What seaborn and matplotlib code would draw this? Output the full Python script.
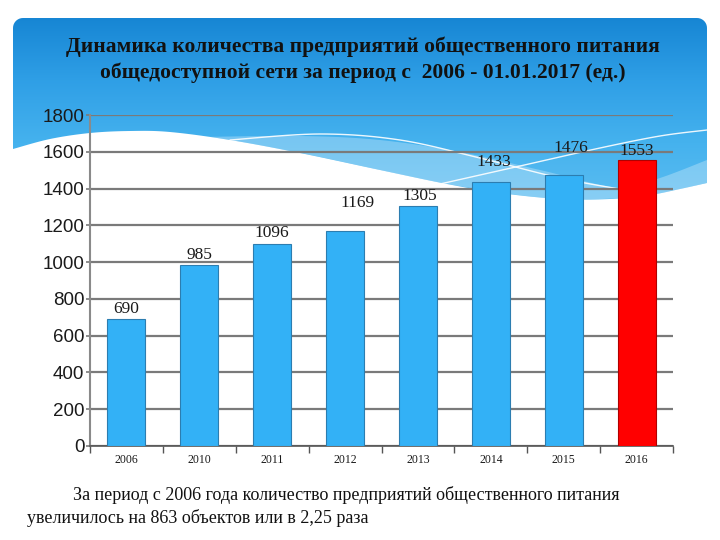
import numpy as np
import pandas as pd
import matplotlib
matplotlib.use("Agg")
import matplotlib.pyplot as plt
from matplotlib.path import Path
from matplotlib.patches import PathPatch, Polygon
import seaborn as sns

# ---- data ----
years = ["2006", "2010", "2011", "2012", "2013", "2014", "2015", "2016"]
counts = [690, 985, 1096, 1169, 1305, 1433, 1476, 1553]
y_ticks = [0, 200, 400, 600, 800, 1000, 1200, 1400, 1600, 1800]
title_lines = ["Динамика количества предприятий общественного питания",
               "общедоступной сети за период с  2006 - 01.01.2017 (ед.)"]
note_lines = ["За период с 2006 года количество предприятий общественного питания",
              "увеличилось на 863 объектов или в 2,25 раза"]

# label offsets (style only, in pixels)
lab_dx = [0, 0, 0, 12, 2, 3, 7, 0]
lab_dy = [2, 2, 3, 20, 2, 12, 19, 1]

sns.set_theme(style="white")
plt.rcParams['font.family'] = ['Liberation Serif', 'DejaVu Serif']

W, H = 720, 540
fig = plt.figure(figsize=(7.2, 5.4), dpi=100)
fig.patch.set_facecolor("white")

# ---- background panel ----
bg = fig.add_axes([0, 0, 1, 1], zorder=0)
bg.set_xlim(0, W)
bg.set_ylim(H, 0)
bg.axis("off")


def catmull(pts, n=12):
    pts = np.asarray(pts, float)
    P = np.vstack([pts[0], pts, pts[-1]])
    out = []
    for i in range(1, len(P) - 2):
        p0, p1, p2, p3 = P[i - 1], P[i], P[i + 1], P[i + 2]
        for t in np.linspace(0, 1, n, endpoint=False):
            t2, t3 = t * t, t * t * t
            out.append(0.5 * ((2 * p1) + (-p0 + p2) * t + (2 * p0 - 5 * p1 + 4 * p2 - p3) * t2
                              + (-p0 + 3 * p1 - 3 * p2 + p3) * t3))
    out.append(pts[-1])
    return np.array(out)


bottom = catmull([(707, 183), (680, 189), (650, 195), (610, 199), (560, 199), (500, 193),
                  (447, 184), (380, 170), (300, 153), (230, 140), (170, 132), (130, 131),
                  (90, 133), (50, 139), (13, 149)])
r = 10
ang1 = np.linspace(np.pi, 1.5 * np.pi, 10)
corner_l = np.c_[13 + r + r * np.cos(ang1), 18 + r + r * np.sin(ang1)]
ang2 = np.linspace(1.5 * np.pi, 2 * np.pi, 10)
corner_r = np.c_[707 - r + r * np.cos(ang2), 18 + r + r * np.sin(ang2)]
panel_pts = np.vstack([corner_l, corner_r, bottom])
panel_path = Path(np.vstack([panel_pts, panel_pts[:1]]), closed=True)
patch = PathPatch(panel_path, facecolor="none", edgecolor="none", transform=bg.transData)
bg.add_patch(patch)

grad = np.linspace(0, 1, 256)[:, None]
cmap = matplotlib.colors.LinearSegmentedColormap.from_list(
    "sky", ["#1786D4", "#2F9FE6", "#45B2EE", "#5CBDF1"])
im = bg.imshow(np.repeat(grad, 2, axis=1), cmap=cmap, aspect="auto",
               extent=(13, 707, 205, 18), zorder=1)
im.set_clip_path(patch)

# lighter wave band
band_top = catmull([(200, 137), (300, 136), (380, 140), (460, 152), (540, 170), (620, 188),
                    (660, 178), (707, 160)])
band_bot = catmull([(707, 183), (650, 195), (560, 199), (447, 184), (300, 153), (200, 137)])
band = Polygon(np.vstack([band_top, band_bot]), closed=True, facecolor="white",
               edgecolor="none", alpha=0.28, zorder=2)
bg.add_patch(band)
band.set_clip_path(patch)

l1 = catmull([(230, 140), (320, 134), (400, 140), (480, 158), (560, 178), (625, 190)])
bg.plot(l1[:, 0], l1[:, 1], color="white", lw=1.0, alpha=0.9, zorder=3)
l2 = catmull([(440, 184), (520, 166), (600, 148), (660, 136), (707, 130)])
bg.plot(l2[:, 0], l2[:, 1], color="white", lw=1.0, alpha=0.9, zorder=3)

# ---- chart ----
ax = fig.add_axes([90 / W, 1 - 446 / H, 583 / W, 331 / H], zorder=1)
ax.patch.set_visible(False)

df = pd.DataFrame({"year": years, "count": counts})
colors = ["#33B1F6"] * (len(years) - 1) + ["#FF0000"]
sns.barplot(data=df, x="year", y="count", hue="year", palette=colors, legend=False,
            width=0.52, ax=ax, saturation=1, zorder=3)
for i, p in enumerate(ax.patches):
    p.set_edgecolor("#2C7DB0" if i < len(years) - 1 else "#B00000")
    p.set_linewidth(0.8)

ax.set_xlim(-0.5, len(years) - 0.5)
ax.set_ylim(0, 1800)
ax.set_yticks(y_ticks)
ax.set_yticklabels([str(v) for v in y_ticks], family=["Liberation Sans", "DejaVu Sans"],
                   fontsize=13.5, color="#1a1a1a")
ax.yaxis.grid(True, color="#7a7a7a", lw=1.6, zorder=0)
ax.set_axisbelow(True)
ax.set_xlabel("")
ax.set_ylabel("")
ax.tick_params(axis="y", length=3, width=1.2, color="#7a7a7a", pad=1, left=True)

# x: labels centered, ticks at boundaries
ax.set_xticks(range(len(years)))
ax.set_xticklabels(years, fontsize=8.5, color="#1a1a1a")
ax.tick_params(axis="x", length=0, pad=6)
ax.set_xticks(np.arange(-0.5, len(years), 1), minor=True)
ax.tick_params(axis="x", which="minor", length=5, width=1.0, color="#555555", bottom=True)

for s in ["top", "right"]:
    ax.spines[s].set_visible(False)
ax.spines["left"].set_color("#8a8a8a")
ax.spines["left"].set_linewidth(1.5)
ax.spines["bottom"].set_color("#555555")
ax.spines["bottom"].set_linewidth(1.2)

for i, (v, p) in enumerate(zip(counts, ax.patches)):
    cx = p.get_x() + p.get_width() / 2
    ax.annotate(str(v), (cx, v), xytext=(lab_dx[i] * 0.72, lab_dy[i] * 0.72),
                textcoords="offset points", ha="center", va="bottom",
                fontsize=12.5, color="#1a1a1a", zorder=5)

# ---- texts ----
fig.text(363 / W, 1 - 47 / H, title_lines[0], ha="center", va="center",
         fontsize=15.5, fontweight="bold", color="#111111")
fig.text(363 / W, 1 - 73 / H, title_lines[1], ha="center", va="center",
         fontsize=15.5, fontweight="bold", color="#111111")
fig.text(73 / W, 1 - 495 / H, note_lines[0], ha="left", va="center",
         fontsize=13, color="#111111")
fig.text(27 / W, 1 - 518 / H, note_lines[1], ha="left", va="center",
         fontsize=13, color="#111111")

fig.savefig("out.png", dpi=100)
